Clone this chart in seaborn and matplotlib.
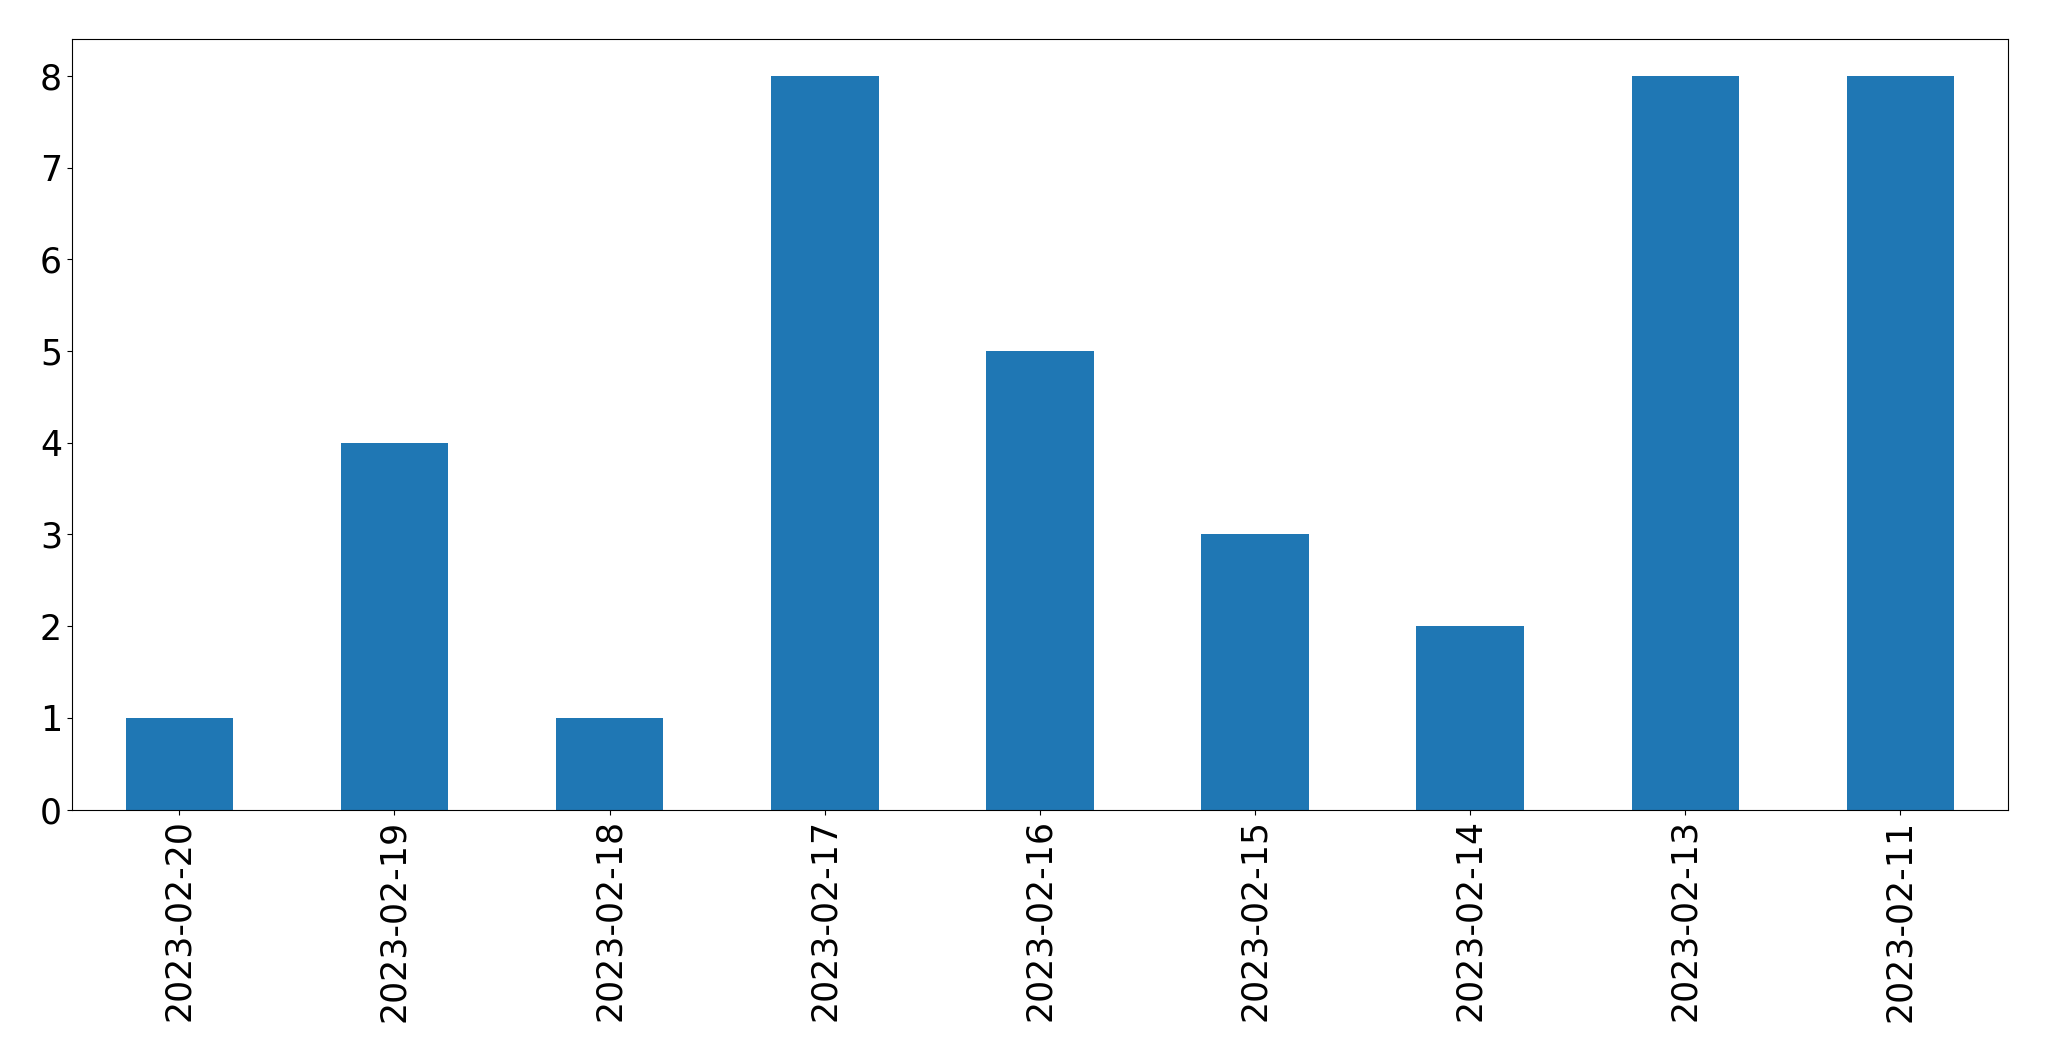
import matplotlib
matplotlib.use("Agg")
import matplotlib.pyplot as plt
import seaborn as sns
import pandas as pd

dates = ["2023-02-20", "2023-02-19", "2023-02-18", "2023-02-17", "2023-02-16",
         "2023-02-15", "2023-02-14", "2023-02-13", "2023-02-11"]
counts = [1, 4, 1, 8, 5, 3, 2, 8, 8]

df = pd.DataFrame({"date": dates, "count": counts})

fig = plt.figure(figsize=(20.49, 10.61), dpi=100)
ax = fig.add_axes([0.035, 0.237, 0.945, 0.726])
sns.barplot(data=df, x="date", y="count", order=dates, color="#1f77b4",
            saturation=1, width=0.5, ax=ax, errorbar=None)
ax.set_xlim(-0.5, len(dates) - 0.5)
ax.set_ylim(0, 8.4)
ax.set_xlabel("")
ax.set_ylabel("")
ax.tick_params(axis="both", labelsize=25)
ax.tick_params(axis="x", labelrotation=90)
fig.savefig("out.png", dpi=100)
